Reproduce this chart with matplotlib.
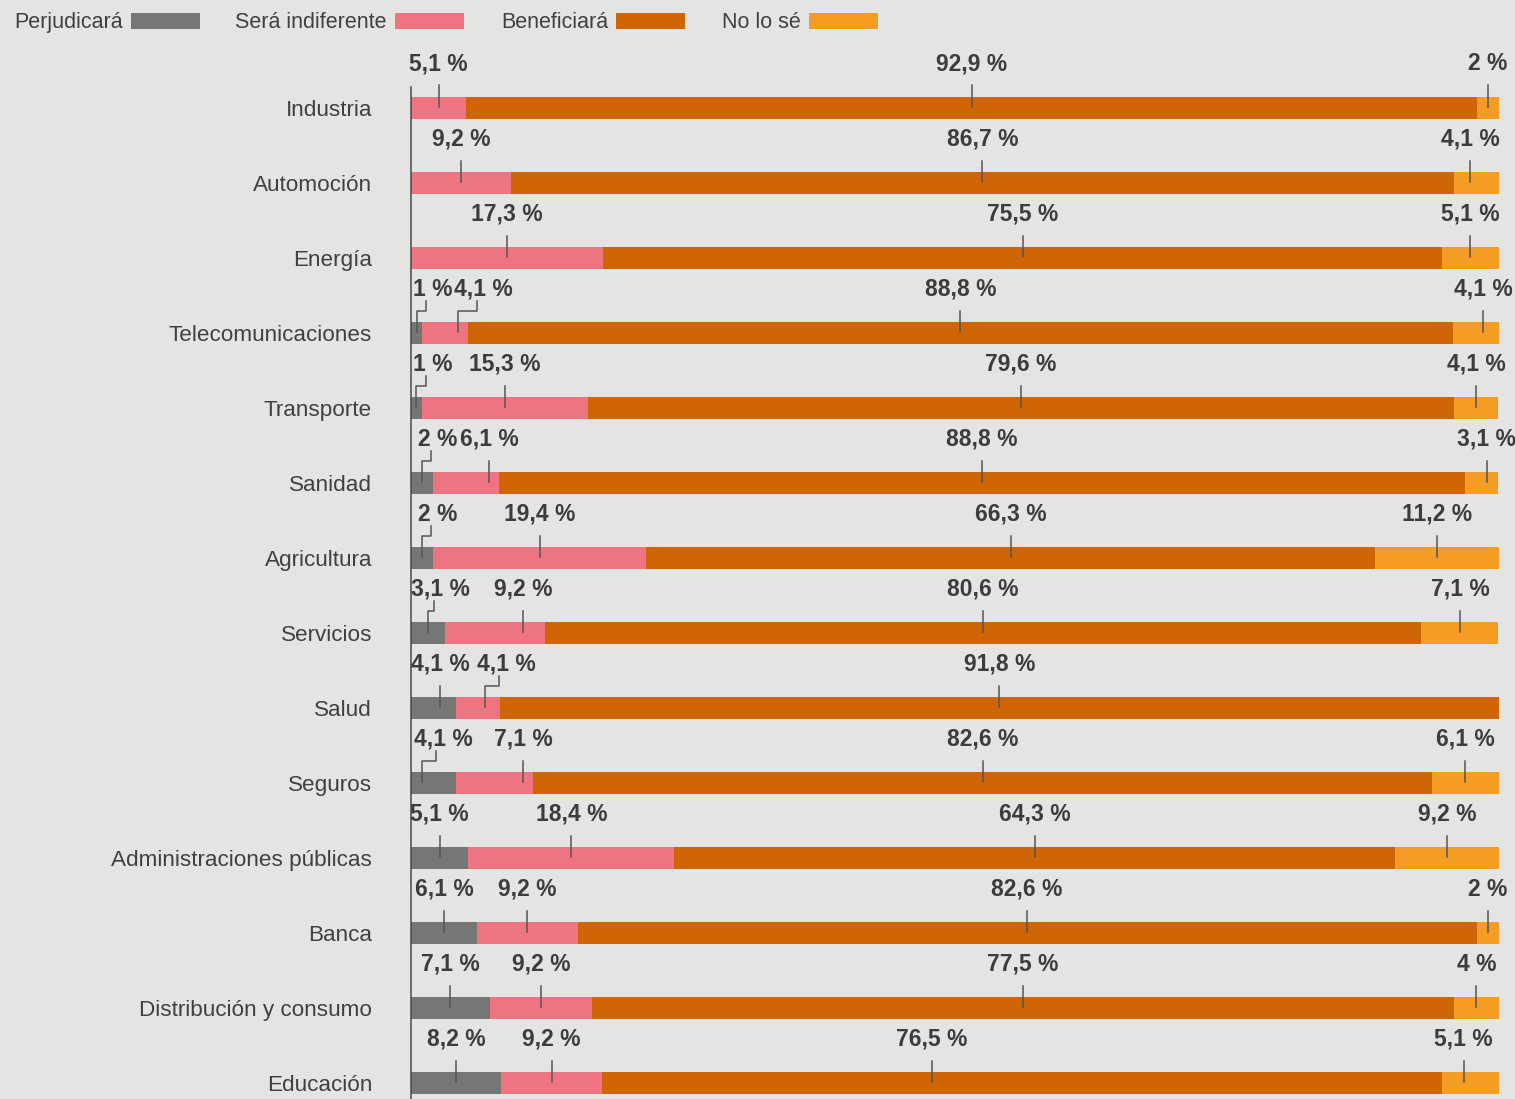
import matplotlib
matplotlib.use("Agg")
import matplotlib.pyplot as plt
from matplotlib.patches import Rectangle

# sectors, top to bottom
categorias = ["Industria", "Automoción", "Energía", "Telecomunicaciones", "Transporte",
              "Sanidad", "Agricultura", "Servicios", "Salud", "Seguros",
              "Administraciones públicas", "Banca", "Distribución y consumo", "Educación"]

# answers in % for each sector
perjudicara = [0, 0, 0, 1, 1, 2, 2, 3.1, 4.1, 4.1, 5.1, 6.1, 7.1, 8.2]
indiferente = [5.1, 9.2, 17.3, 4.1, 15.3, 6.1, 19.4, 9.2, 4.1, 7.1, 18.4, 9.2, 9.2, 9.2]
beneficiara = [92.9, 86.7, 75.5, 88.8, 79.6, 88.8, 66.3, 80.6, 91.8, 82.6, 64.3, 82.6, 77.5, 76.5]
no_lo_se = [2, 4.1, 5.1, 4.1, 4.1, 3.1, 11.2, 7.1, 0, 6.1, 9.2, 2, 4, 5.1]

nombres = ["Perjudicará", "Será indiferente", "Beneficiará", "No lo sé"]
colores = ["#767674", "#ef7482", "#cf6504", "#f59c24"]
series = [perjudicara, indiferente, beneficiara, no_lo_se]

# hand placed labels (row, series) -> x of the label on the 0-100 scale
pos_etiqueta = {(3, 0): 2.0, (3, 1): 6.7, (4, 0): 2.0, (5, 0): 2.45, (5, 1): 7.2,
                (6, 0): 2.45, (7, 0): 2.75, (7, 1): 10.3, (8, 0): 2.7, (8, 1): 8.75,
                (9, 0): 2.95, (9, 1): 10.3, (13, 2): 47.9,
                (3, 3): 98.6, (5, 3): 98.9, (13, 3): 96.8, (1, 3): 97.4}
# labels that need a bent leader line, and where the line ends if not mid-segment
codos = {(3, 0), (3, 1), (4, 0), (5, 0), (6, 0), (7, 0), (8, 1), (9, 0)}
fin_codo = {(3, 1): 4.3, (8, 1): 6.8, (9, 0): 1.0}

fondo = "#e4e4e3"
texto_oscuro = "#3c3c3c"
plt.rcParams["font.family"] = ["Liberation Sans", "DejaVu Sans"]

W, H = 1515, 1099
fig = plt.figure(figsize=(W / 100, H / 100), dpi=100, facecolor=fondo)
ax = fig.add_axes([411 / W, 0, 1087.5 / W, (H - 87) / H])
ax.set_facecolor(fondo)
ax.set_xlim(0, 100)
ax.set_ylim(13.213, -0.28)

alto = 0.293


def fmt(v):
    if float(v).is_integer():
        return f"{int(v)} %"
    return f"{v:.1f} %".replace(".", ",")


for i, cat in enumerate(categorias):
    vals = [s[i] for s in series]
    total = sum(vals)
    izq = 0
    for j, v in enumerate(vals):
        ancho = v / total * 100
        if v > 0:
            ax.barh(i, ancho, left=izq, height=alto, color=colores[j], linewidth=0)
            centro = izq + ancho / 2
            xt = pos_etiqueta.get((i, j), centro)
            ax.text(xt, i - 0.5, fmt(v), ha="center", va="baseline", fontsize=16.5,
                    fontweight="bold", color=texto_oscuro, clip_on=False)
            if (i, j) in codos:
                xf = fin_codo.get((i, j), centro)
                xa = xt - 0.65
                ax.plot([xa, xa, xf, xf], [i - 0.43, i - 0.3, i - 0.3, i - 0.01],
                        color="#555555", lw=1.1, clip_on=False, zorder=3)
            else:
                ax.plot([xt, xt], [i - 0.3, i - 0.01], color="#555555", lw=1.1,
                        clip_on=False, zorder=3)
        izq += ancho
    ax.text(-39 / 1087.5, i + 0.113, cat, transform=ax.get_yaxis_transform(),
            ha="right", va="baseline", fontsize=16.2, color="#404040")

for lado in ["top", "right", "bottom"]:
    ax.spines[lado].set_visible(False)
ax.spines["left"].set_color("#4a4a4a")
ax.spines["left"].set_linewidth(1.1)
ax.set_xticks([])
ax.set_yticks([])

# legend across the top
renderer = fig.canvas.get_renderer()
for nombre, color, x0 in zip(nombres, colores, [14, 235, 501, 722]):
    t = fig.text(x0 / W, (H - 28) / H, nombre, ha="left", va="baseline",
                 fontsize=15.5, color="#404040")
    bb = t.get_window_extent(renderer)
    fig.patches.append(Rectangle(((bb.x1 + 8) / W, (H - 29) / H), 69 / W, 16 / H,
                                 transform=fig.transFigure, color=color, linewidth=0))

fig.savefig("out.png", dpi=100, facecolor=fondo)
